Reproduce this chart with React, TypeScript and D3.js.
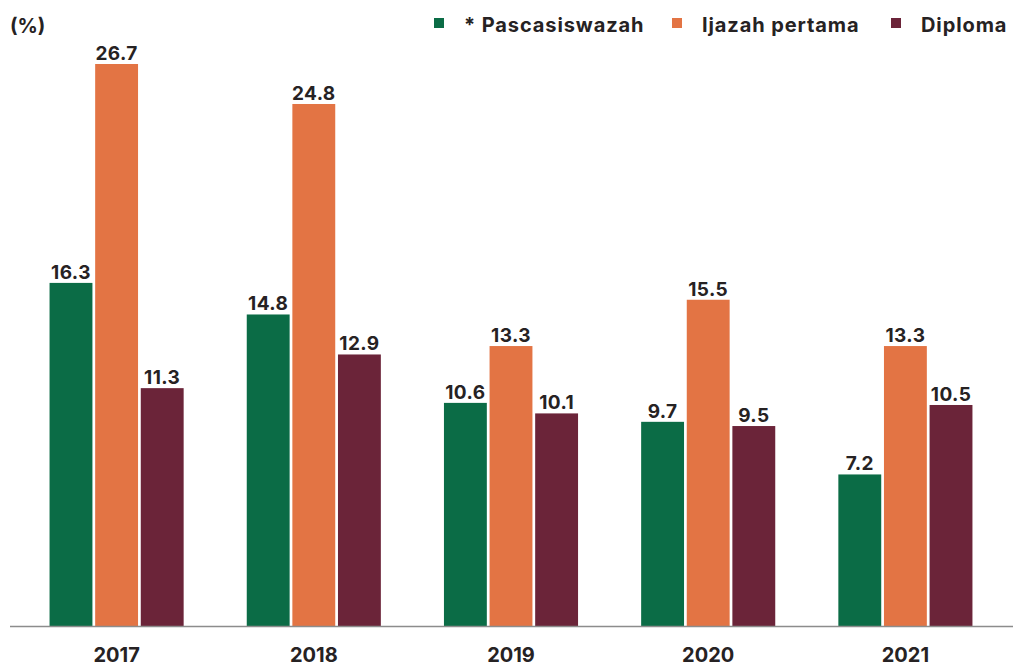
import * as d3 from "d3";
import { useEffect, useRef } from "react";

const years = ["2017", "2018", "2019", "2020", "2021"];
const seriesNames = ["* Pascasiswazah", "Ijazah pertama", "Diploma"];
const pascasiswazah = [16.3, 14.8, 10.6, 9.7, 7.2];
const ijazahPertama = [26.7, 24.8, 13.3, 15.5, 13.3];
const diploma = [11.3, 12.9, 10.1, 9.5, 10.5];
const colors = ["#0b6c46", "#e37444", "#6b2439"];

type Cell = { year: string; series: number; value: number };

export default function App() {
  const svgRef = useRef<SVGSVGElement | null>(null);

  useEffect(() => {
    document.body.style.margin = "0";
    if (!svgRef.current) return;

    const width = 1013;
    const height = 666;
    const baseline = 626;
    const font = "Inter, 'Noto Sans', sans-serif";
    const ink = "#262223";

    const svg = d3.select(svgRef.current);
    svg.selectAll("*").remove();
    svg.attr("width", width).attr("height", height);

    const values = [pascasiswazah, ijazahPertama, diploma];
    const cells: Cell[] = years.flatMap((year, i) =>
      values.map((vals, s) => ({ year, series: s, value: vals[i] }))
    );

    const x0 = d3
      .scaleBand<string>()
      .domain(years)
      .range([18, 1004])
      .paddingInner(0.32)
      .paddingOuter(0.16);

    const x1 = d3
      .scaleBand<number>()
      .domain([0, 1, 2])
      .range([0, x0.bandwidth()])
      .paddingInner(0.06);

    const y = d3.scaleLinear().domain([0, 26.7]).range([baseline, 64]);

    const bars = svg.append("g");

    bars
      .selectAll("rect")
      .data(cells)
      .join("rect")
      .attr("x", (d) => (x0(d.year) ?? 0) + (x1(d.series) ?? 0))
      .attr("y", (d) => y(d.value))
      .attr("width", x1.bandwidth())
      .attr("height", (d) => baseline - y(d.value))
      .attr("fill", (d) => colors[d.series]);

    bars
      .selectAll(".bar-value")
      .data(cells)
      .join("text")
      .attr("x", (d) => (x0(d.year) ?? 0) + (x1(d.series) ?? 0) + x1.bandwidth() / 2)
      .attr("y", (d) => y(d.value) - 4)
      .attr("text-anchor", "middle")
      .attr("font-family", font)
      .attr("font-size", 19)
      .attr("font-weight", 700)
      .attr("letter-spacing", 0.4)
      .attr("fill", ink)
      .text((d) => d.value.toFixed(1));

    svg
      .append("line")
      .attr("x1", 10)
      .attr("x2", width)
      .attr("y1", baseline + 0.5)
      .attr("y2", baseline + 0.5)
      .attr("stroke", "#8c8c8c")
      .attr("stroke-width", 1.5);

    svg
      .append("g")
      .selectAll("text")
      .data(years)
      .join("text")
      .attr("x", (d) => (x0(d) ?? 0) + x0.bandwidth() / 2)
      .attr("y", 662)
      .attr("text-anchor", "middle")
      .attr("font-family", font)
      .attr("font-size", 20)
      .attr("font-weight", 700)
      .attr("fill", ink)
      .text((d) => d);

    svg
      .append("text")
      .attr("x", 10)
      .attr("y", 33)
      .attr("font-family", font)
      .attr("font-size", 20)
      .attr("font-weight", 700)
      .attr("fill", ink)
      .text("(%)");

    const legendX = [434, 672, 891];
    const legend = svg
      .append("g")
      .selectAll("g")
      .data(seriesNames)
      .join("g")
      .attr("transform", (_, i) => `translate(${legendX[i]},0)`);

    legend
      .append("rect")
      .attr("x", 0)
      .attr("y", 18)
      .attr("width", 10)
      .attr("height", 10)
      .attr("fill", (_, i) => colors[i]);

    legend
      .append("text")
      .attr("x", 30)
      .attr("y", 32)
      .attr("font-family", font)
      .attr("font-size", 20)
      .attr("font-weight", 700)
      .attr("letter-spacing", 0.9)
      .attr("fill", ink)
      .text((d) => d);
  }, []);

  return <svg ref={svgRef} style={{ display: "block" }} />;
}
